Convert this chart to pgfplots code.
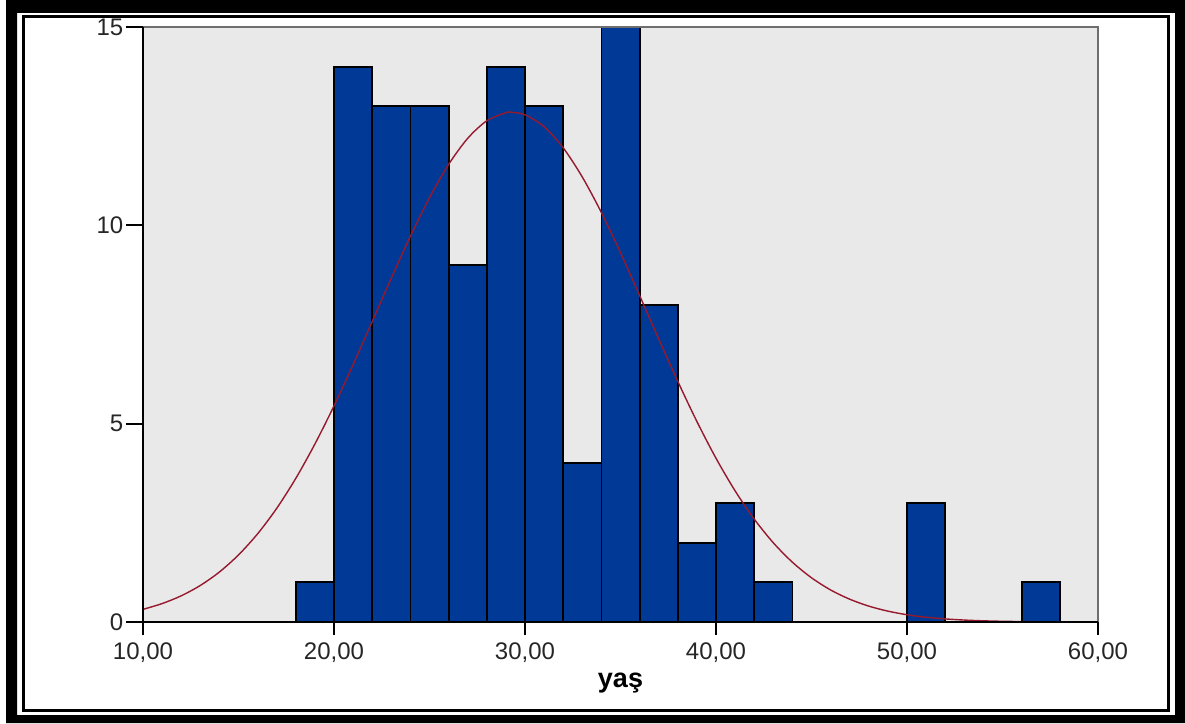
\documentclass[border=0pt]{standalone}
\usepackage{pgfplots}
\pgfplotsset{compat=1.18}
\usepackage{fontspec}
\setmainfont{Liberation Sans}
\definecolor{barblue}{RGB}{0,58,150}
\definecolor{bggray}{RGB}{233,233,233}
\definecolor{curvered}{RGB}{150,25,45}
\definecolor{framegray}{RGB}{110,110,110}
\begin{document}
\begin{tikzpicture}
\useasboundingbox (0pt,0pt) rectangle (1185pt,723pt);
% outer frame
\fill[black, even odd rule] (6pt,0pt) rectangle (1185pt,723pt) (17pt,8pt) rectangle (1175pt,710pt);
\draw[line width=3pt] (23pt,13pt) rectangle (1168.5pt,706.5pt);
\begin{axis}[
  at={(143pt,101pt)}, anchor=south west,
  scale only axis, width=955pt, height=595pt,
  xmin=10, xmax=60, ymin=0, ymax=15,
  axis background/.style={fill=bggray},
  axis lines=left,
  axis line style={-, black, line width=1.8pt},
  xtick={10,20,30,40,50,60},
  xticklabels={{10,00},{20,00},{30,00},{40,00},{50,00},{60,00}},
  ytick={0,5,10,15},
  yticklabels={0,5,10,15},
  tick align=outside,
  xtick style={black, line width=1.8pt},
  ytick style={black, line width=1.8pt},
  x tick style={/pgfplots/major tick length=13pt},
  y tick style={/pgfplots/major tick length=17pt},
  ticklabel style={font=\fontsize{24}{26}\selectfont, text=black!85},
  xticklabel style={yshift=-13pt},
  yticklabel style={xshift=-12pt},
  xlabel={\textbf{yaş}},
  xlabel style={font=\fontsize{27}{29}\selectfont, at={(rel axis cs:0.5,0)}, anchor=center, yshift=-61pt},
  clip=false,
]
\addplot[ybar, bar width=2, bar shift=0pt, fill=barblue, draw=black, line width=1.8pt] coordinates {
 (19,1) (21,14) (23,13) (25,13) (27,9) (29,14) (31,13) (33,4) (35,15) (37,8) (39,2) (41,3) (43,1) (51,3) (57,1)
};
\addplot[curvered, line width=1.4pt, smooth] coordinates {
 (10,0.319) (11,0.464) (12,0.660) (13,0.921) (14,1.260) (15,1.691) (16,2.223) (17,2.865) (18,3.621) (19,4.487)
 (20,5.449) (21,6.488) (22,7.574) (23,8.668) (24,9.726) (25,10.697) (26,11.535) (27,12.193) (28,12.636) (29,12.839)
 (29.3,12.85) (30,12.788) (31,12.487) (32,11.954) (33,11.218) (34,10.322) (35,9.310) (36,8.232) (37,7.137) (38,6.066)
 (39,5.054) (40,4.128) (41,3.306) (42,2.595) (43,1.997) (44,1.507) (45,1.115) (46,0.808) (47,0.575) (48,0.400)
 (49,0.274) (50,0.183) (51,0.120) (52,0.078) (53,0.049) (54,0.030) (55,0.018) (56,0.011) (57,0.006) (58,0.004)
 (59,0.002) (60,0.001)
};
\draw[framegray, line width=1.8pt] (rel axis cs:0,1) -- (rel axis cs:1,1) -- (rel axis cs:1,0);
\draw[black, line width=1.8pt] (rel axis cs:0,0) -- (rel axis cs:1,0);
\draw[black, line width=1.8pt] (rel axis cs:0,0) -- (rel axis cs:0,1);
\end{axis}
\end{tikzpicture}
\end{document}
